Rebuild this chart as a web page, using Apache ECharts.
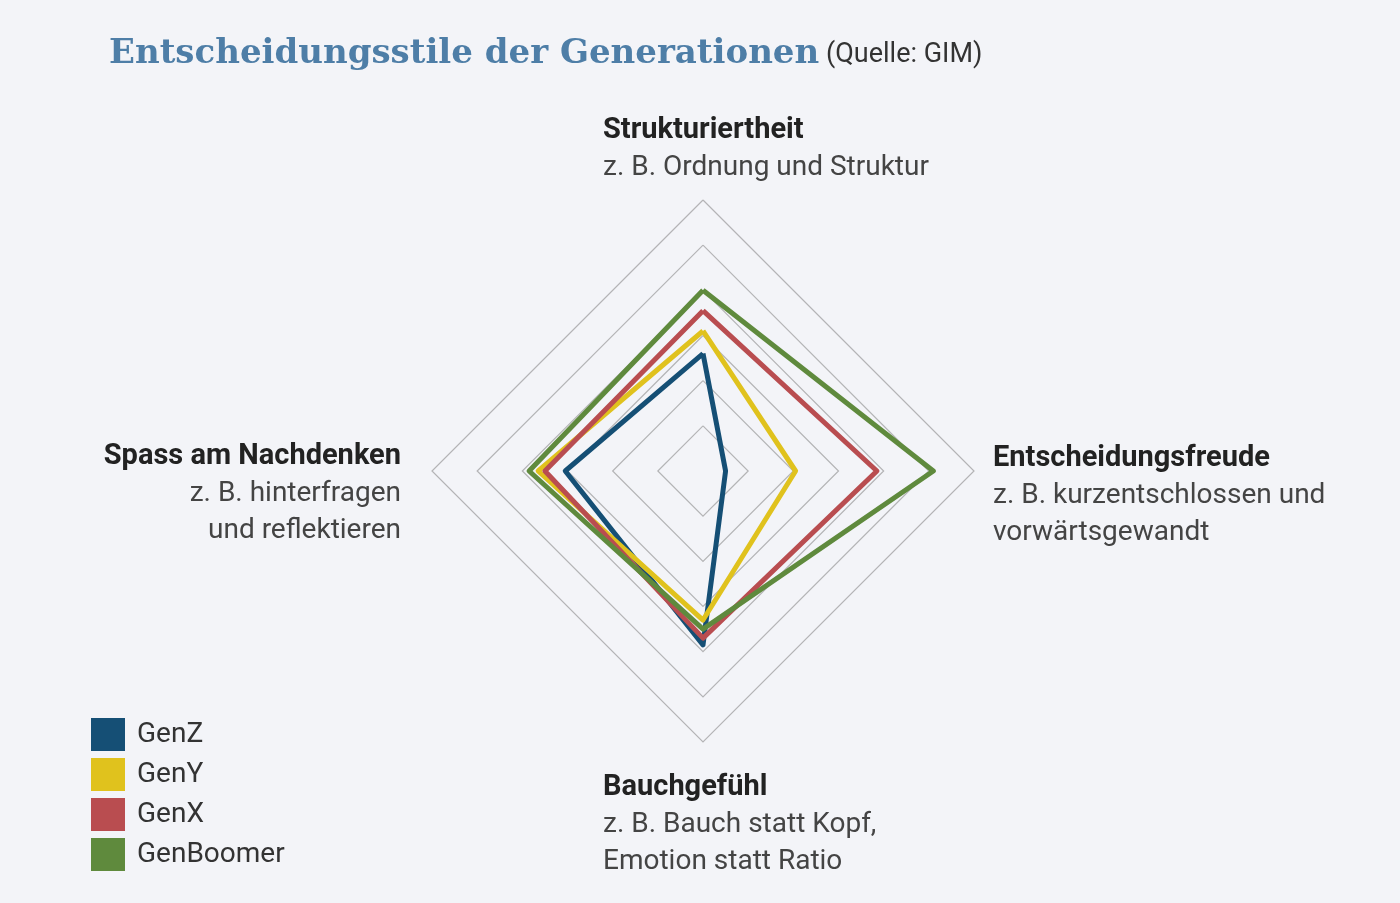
<!DOCTYPE html>
<html>
<head>
<meta charset="utf-8">
<script src="https://cdn.jsdelivr.net/npm/echarts@6/dist/echarts.min.js"></script>
<style>
  html, body { margin: 0; padding: 0; background: #f3f4f8; }
  #chart { width: 1400px; height: 903px; }
</style>
</head>
<body>
<div id="chart"></div>
<script>
// axes in radar order: top, left, bottom, right
const axisNames = ['Strukturiertheit', 'Spass am Nachdenken', 'Bauchgefühl', 'Entscheidungsfreude'];
const axisHints = [
  'z. B. Ordnung und Struktur',
  'z. B. hinterfragen\nund reflektieren',
  'z. B. Bauch statt Kopf,\nEmotion statt Ratio',
  'z. B. kurzentschlossen und\nvorwärtsgewandt'
];
const generations = ['GenZ', 'GenY', 'GenX', 'GenBoomer'];
const genZ = [2.6, 3.05, 3.85, 0.5];
const genY = [3.1, 3.65, 3.3, 2.05];
const genX = [3.55, 3.5, 3.7, 3.85];
const genBoomer = [4.0, 3.85, 3.5, 5.1];
const colors = ['#154f75', '#e0c21d', '#b94d50', '#5f8a3d'];

const chart = echarts.init(document.getElementById('chart'));

// label blocks: position + alignment per axis
const labelPos = [
  { x: 603, y: 116, align: 'left' },
  { x: 401, y: 442, align: 'right' },
  { x: 603, y: 773, align: 'left' },
  { x: 993, y: 444, align: 'left' }
];

const labels = axisNames.map((name, i) => ({
  type: 'text',
  left: labelPos[i].align === 'left' ? labelPos[i].x : null,
  right: labelPos[i].align === 'right' ? 1400 - labelPos[i].x : null,
  top: labelPos[i].y,
  style: {
    text: '{b|' + name + '}\n{r|' + axisHints[i].split('\n').join('}\n{r|') + '}',
    align: labelPos[i].align,
    rich: {
      b: { fontFamily: 'Roboto', fontWeight: 'bold', fontSize: 29, lineHeight: 37, fill: '#222', align: labelPos[i].align },
      r: { fontFamily: 'Roboto', fontSize: 28, lineHeight: 37, fill: '#444', align: labelPos[i].align }
    }
  }
}));

const option = {
  backgroundColor: '#f3f4f8',
  color: colors,
  title: {
    text: 'Entscheidungsstile der Generationen',
    left: 104,
    top: 32,
    textStyle: { fontFamily: 'DejaVu Serif', fontWeight: 'bold', fontSize: 34, color: '#4e7ea7' }
  },
  legend: {
    data: generations,
    orient: 'vertical',
    left: 86,
    top: 713,
    icon: 'rect',
    itemWidth: 34,
    itemHeight: 33,
    itemGap: 7,
    textStyle: { fontFamily: 'Roboto', fontSize: 28, color: '#333', padding: [8, 0, 0, 7] }
  },
  radar: {
    center: [703, 471],
    radius: 271,
    startAngle: 90,
    shape: 'polygon',
    splitNumber: 6,
    indicator: axisNames.map(n => ({ name: n, min: 0, max: 6 })),
    axisName: { show: false },
    axisLine: { show: false },
    axisTick: { show: false },
    axisLabel: { show: false },
    splitArea: { show: false },
    splitLine: { lineStyle: { color: '#b4b4b6', width: 1.2 } }
  },
  graphic: labels.concat([{
    type: 'text',
    left: 826,
    top: 42,
    style: { text: '(Quelle: GIM)', fontFamily: 'Roboto', fontSize: 27, fill: '#333' }
  }]),
  series: [{
    type: 'radar',
    symbol: 'none',
    lineStyle: { width: 5 },
    data: [
      { name: 'GenZ', value: genZ },
      { name: 'GenY', value: genY },
      { name: 'GenX', value: genX },
      { name: 'GenBoomer', value: genBoomer }
    ]
  }]
};
chart.setOption(option);
</script>
</body>
</html>
